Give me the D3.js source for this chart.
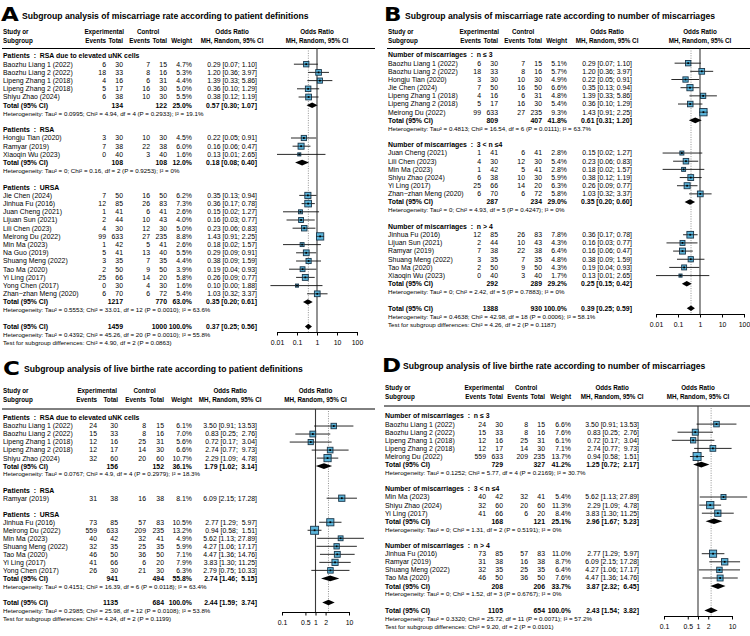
<!DOCTYPE html>
<html><head><meta charset="utf-8">
<script src="https://cdn.jsdelivr.net/npm/d3@7"></script>
<style>
body{margin:0;background:#fff}
svg text{font-family:"Liberation Sans",Arial,sans-serif;white-space:pre;fill:#000}
</style></head><body>
<svg id="c" width="750" height="636"></svg>
<script>
// ================= DATA =================
// study row: [label, groupIndex, expEvents, expTotal, ctrlEvents, ctrlTotal, weight%, OR, lower, upper]
// subtotal: [expTotal, ctrlTotal, weight%, OR, lower, upper]

// ---- Panel A ----
const groupsA = ["Patients  :  RSA due to elevated uNK cells", "Patients  :  RSA", "Patients  :  URSA"];
const studiesA = [
  ["Baozhu Liang 1 (2022)",0,6,30,7,15,4.7,0.29,0.07,1.10],
  ["Baozhu Liang 2 (2022)",0,18,33,8,16,5.3,1.20,0.36,3.97],
  ["Lipeng Zhang 1 (2018)",0,4,16,6,31,4.4,1.39,0.33,5.86],
  ["Lipeng Zhang 2 (2018)",0,5,17,16,30,5.0,0.36,0.10,1.29],
  ["Shiyu Zhao (2024)",0,6,38,10,30,5.5,0.38,0.12,1.19],
  ["Hongju Tian (2020)",1,3,30,10,30,4.5,0.22,0.05,0.91],
  ["Ramyar (2019)",1,7,38,22,38,6.0,0.16,0.06,0.47],
  ["Xiaoqin Wu (2023)",1,0,40,3,40,1.6,0.13,0.01,2.65],
  ["Jie Chen (2024)",2,7,50,16,50,6.2,0.35,0.13,0.94],
  ["Jinhua Fu (2016)",2,12,85,26,83,7.3,0.36,0.17,0.78],
  ["Juan Cheng (2021)",2,1,41,6,41,2.6,0.15,0.02,1.27],
  ["Lijuan Sun (2021)",2,2,44,10,43,4.0,0.16,0.03,0.77],
  ["Lili Chen (2023)",2,4,30,12,30,5.0,0.23,0.06,0.83],
  ["Meirong Du (2022)",2,99,633,27,235,8.8,1.43,0.91,2.25],
  ["Min Ma (2023)",2,1,42,5,41,2.6,0.18,0.02,1.57],
  ["Na Guo (2019)",2,5,41,13,40,5.5,0.29,0.09,0.91],
  ["Shuang Meng (2022)",2,3,35,7,35,4.4,0.38,0.09,1.59],
  ["Tao Ma (2020)",2,2,50,9,50,3.9,0.19,0.04,0.93],
  ["Yi Ling (2017)",2,25,66,14,20,5.8,0.26,0.09,0.77],
  ["Yong Chen (2017)",2,0,30,4,30,1.6,0.10,0.0047,1.88],
  ["Zhan\u2212zhan Meng (2020)",2,6,70,6,72,5.4,1.03,0.32,3.37]
];
const subtotalsA = [[134,122,25.0,0.57,0.30,1.07],[108,108,12.0,0.18,0.08,0.40],[1217,770,63.0,0.35,0.20,0.61]];
const hetA = [
  "Heterogeneity: Tau\u00b2 = 0.0995; Chi\u00b2 = 4.94, df = 4 (P = 0.2933); I\u00b2 = 19.1%",
  "Heterogeneity: Tau\u00b2 = 0; Chi\u00b2 = 0.16, df = 2 (P = 0.9253); I\u00b2 = 0%",
  "Heterogeneity: Tau\u00b2 = 0.5553; Chi\u00b2 = 33.01, df = 12 (P = 0.0010); I\u00b2 = 63.6%"
];
const overallA = [1459,1000,100.0,0.37,0.25,0.56];
const overallHetA = "Heterogeneity: Tau\u00b2 = 0.4392; Chi\u00b2 = 45.26, df = 20 (P = 0.0010); I\u00b2 = 55.8%";
const testA = "Test for subgroup differences: Chi\u00b2 = 4.90, df = 2 (P = 0.0863)";

// ---- Panel B ----
const groupsB = ["Number of miscarriages  :  n \u2264 3", "Number of miscarriages  :  3 < n \u22644", "Number of miscarriages  :  n > 4"];
const studiesB = [
  ["Baozhu Liang 1 (2022)",0,6,30,7,15,5.1,0.29,0.07,1.10],
  ["Baozhu Liang 2 (2022)",0,18,33,8,16,5.7,1.20,0.36,3.97],
  ["Hongju Tian (2020)",0,3,30,10,30,4.9,0.22,0.05,0.91],
  ["Jie Chen (2024)",0,7,50,16,50,6.6,0.35,0.13,0.94],
  ["Lipeng Zhang 1 (2018)",0,4,16,6,31,4.8,1.39,0.33,5.86],
  ["Lipeng Zhang 2 (2018)",0,5,17,16,30,5.4,0.36,0.10,1.29],
  ["Meirong Du (2022)",0,99,633,27,235,9.3,1.43,0.91,2.25],
  ["Juan Cheng (2021)",1,1,41,6,41,2.8,0.15,0.02,1.27],
  ["Lili Chen (2023)",1,4,30,12,30,5.4,0.23,0.06,0.83],
  ["Min Ma (2023)",1,1,42,5,41,2.8,0.18,0.02,1.57],
  ["Shiyu Zhao (2024)",1,6,38,10,30,5.9,0.38,0.12,1.19],
  ["Yi Ling (2017)",1,25,66,14,20,6.3,0.26,0.09,0.77],
  ["Zhan\u2212zhan Meng (2020)",1,6,70,6,72,5.8,1.03,0.32,3.37],
  ["Jinhua Fu (2016)",2,12,85,26,83,7.8,0.36,0.17,0.78],
  ["Lijuan Sun (2021)",2,2,44,10,43,4.3,0.16,0.03,0.77],
  ["Ramyar (2019)",2,7,38,22,38,6.4,0.16,0.06,0.47],
  ["Shuang Meng (2022)",2,3,35,7,35,4.8,0.38,0.09,1.59],
  ["Tao Ma (2020)",2,2,50,9,50,4.3,0.19,0.04,0.93],
  ["Xiaoqin Wu (2023)",2,0,40,3,40,1.7,0.13,0.01,2.65]
];
const subtotalsB = [[809,407,41.8,0.61,0.31,1.20],[287,234,29.0,0.35,0.20,0.60],[292,289,29.2,0.25,0.15,0.42]];
const hetB = [
  "Heterogeneity: Tau\u00b2 = 0.4813; Chi\u00b2 = 16.54, df = 6 (P = 0.0111); I\u00b2 = 63.7%",
  "Heterogeneity: Tau\u00b2 = 0; Chi\u00b2 = 4.93, df = 5 (P = 0.4247); I\u00b2 = 0%",
  "Heterogeneity: Tau\u00b2 = 0; Chi\u00b2 = 2.42, df = 5 (P = 0.7883); I\u00b2 = 0%"
];
const overallB = [1388,930,100.0,0.39,0.25,0.59];
const overallHetB = "Heterogeneity: Tau\u00b2 = 0.4638; Chi\u00b2 = 42.98, df = 18 (P = 0.0006); I\u00b2 = 58.1%";
const testB = "Test for subgroup differences: Chi\u00b2 = 4.26, df = 2 (P = 0.1187)";

// ---- Panel C ----
const groupsC = ["Patients  :  RSA due to elevated uNK cells", "Patients  :  RSA", "Patients  :  URSA"];
const studiesC = [
  ["Baozhu Liang 1 (2022)",0,24,30,8,15,6.1,3.50,0.91,13.53],
  ["Baozhu Liang 2 (2022)",0,15,33,8,16,7.0,0.83,0.25,2.76],
  ["Lipeng Zhang 1 (2018)",0,12,16,25,31,5.6,0.72,0.17,3.04],
  ["Lipeng Zhang 2 (2018)",0,12,17,14,30,6.6,2.74,0.77,9.73],
  ["Shiyu Zhao (2024)",0,32,60,20,60,10.7,2.29,1.09,4.78],
  ["Ramyar (2019)",1,31,38,16,38,8.1,6.09,2.15,17.28],
  ["Jinhua Fu (2016)",2,73,85,57,83,10.5,2.77,1.29,5.97],
  ["Meirong Du (2022)",2,559,633,209,235,13.2,0.94,0.58,1.51],
  ["Min Ma (2023)",2,40,42,32,41,4.9,5.62,1.13,27.89],
  ["Shuang Meng (2022)",2,32,35,25,35,5.9,4.27,1.06,17.17],
  ["Tao Ma (2020)",2,46,50,36,50,7.1,4.47,1.36,14.76],
  ["Yi Ling (2017)",2,41,66,6,20,7.9,3.83,1.30,11.25],
  ["Yong Chen (2017)",2,26,30,21,30,6.3,2.79,0.75,10.33]
];
const subtotalsC = [[156,152,36.1,1.79,1.02,3.14], null, [941,494,55.8,2.74,1.46,5.15]];
const hetC = [
  "Heterogeneity: Tau\u00b2 = 0.0767; Chi\u00b2 = 4.9, df = 4 (P = 0.2979); I\u00b2 = 18.3%",
  null,
  "Heterogeneity: Tau\u00b2 = 0.4151; Chi\u00b2 = 16.39, df = 6 (P = 0.0118); I\u00b2 = 63.4%"
];
const overallC = [1135,684,100.0,2.44,1.59,3.74];
const overallHetC = "Heterogeneity: Tau\u00b2 = 0.2985; Chi\u00b2 = 25.98, df = 12 (P = 0.0108); I\u00b2 = 53.8%";
const testC = "Test for subgroup differences: Chi\u00b2 = 4.24, df = 2 (P = 0.1199)";

// ---- Panel D ----
const groupsD = ["Number of miscarriages  :  n \u2264 3", "Number of miscarriages  :  3 < n \u22644", "Number of miscarriages  :  n > 4"];
const studiesD = [
  ["Baozhu Liang 1 (2022)",0,24,30,8,15,6.6,3.50,0.91,13.53],
  ["Baozhu Liang 2 (2022)",0,15,33,8,16,7.6,0.83,0.25,2.76],
  ["Lipeng Zhang 1 (2018)",0,12,16,25,31,6.1,0.72,0.17,3.04],
  ["Lipeng Zhang 2 (2018)",0,12,17,14,30,7.1,2.74,0.77,9.73],
  ["Meirong Du (2022)",0,559,633,209,235,13.7,0.94,0.58,1.51],
  ["Min Ma (2023)",1,40,42,32,41,5.4,5.62,1.13,27.89],
  ["Shiyu Zhao (2024)",1,32,60,20,60,11.3,2.29,1.09,4.78],
  ["Yi Ling (2017)",1,41,66,6,20,8.4,3.83,1.30,11.25],
  ["Jinhua Fu (2016)",2,73,85,57,83,11.0,2.77,1.29,5.97],
  ["Ramyar (2019)",2,31,38,16,38,8.7,6.09,2.15,17.28],
  ["Shuang Meng (2022)",2,32,35,25,35,6.4,4.27,1.06,17.17],
  ["Tao Ma (2020)",2,46,50,36,50,7.6,4.47,1.36,14.76]
];
const subtotalsD = [[729,327,41.2,1.25,0.72,2.17],[168,121,25.1,2.96,1.67,5.23],[208,206,33.7,3.87,2.32,6.45]];
const hetD = [
  "Heterogeneity: Tau\u00b2 = 0.1252; Chi\u00b2 = 5.77, df = 4 (P = 0.2169); I\u00b2 = 30.7%",
  "Heterogeneity: Tau\u00b2 = 0; Chi\u00b2 = 1.31, df = 2 (P = 0.5191); I\u00b2 = 0%",
  "Heterogeneity: Tau\u00b2 = 0; Chi\u00b2 = 1.52, df = 3 (P = 0.6767); I\u00b2 = 0%"
];
const overallD = [1105,654,100.0,2.43,1.54,3.82];
const overallHetD = "Heterogeneity: Tau\u00b2 = 0.3320; Chi\u00b2 = 25.72, df = 11 (P = 0.0071); I\u00b2 = 57.2%";
const testD = "Test for subgroup differences: Chi\u00b2 = 9.20, df = 2 (P = 0.0101)";

// axis ticks
const ticksWide = [0.01, 0.1, 1, 10, 100];
const tickLabelsWide = ["0.01", "0.1", "1", "10", "100"];
const ticksNarrow = [0.1, 0.5, 1, 2, 10];
const tickLabelsNarrow = ["0.1", "0.5", "1", "2", "10"];

const titleA = "Subgroup analysis of miscarriage rate according to patient definitions";
const titleB = "Subgroup analysis of miscarriage rate according to number of miscarriages";
const titleC = "Subgroup analysis of live birthe rate according to patient definitions";
const titleD = "Subgroup analysis of live birthe rate according to number of miscarriages";

// ================= LAYOUT =================
const svg = d3.select("#c");
const FONT = 6.9, HFONT = 6.3, SFONT = 6.2;

function buildRows(groups, studies, subtotals, hets, overall, overallHet, test) {
  const rows = [];
  groups.forEach((g, gi) => {
    rows.push({type: "group", text: g});
    studies.filter(s => s[1] === gi).forEach(s => rows.push({type: "study", d: s}));
    if (subtotals[gi]) {
      rows.push({type: "total", d: subtotals[gi]});
      rows.push({type: "het", text: hets[gi]});
    }
    rows.push({type: "blank"});
  });
  rows.push({type: "total", d: overall, overall: true});
  rows.push({type: "het", text: overallHet});
  rows.push({type: "het", text: test});
  return rows;
}

function txt(g, x, y, s, opt = {}) {
  const t = g.append("text").attr("x", x).attr("y", y).attr("dy", "0.35em")
    .attr("font-size", opt.size || FONT)
    .attr("text-anchor", opt.anchor || "start")
    .attr("xml:space", "preserve")
    .text(s);
  if (opt.bold) t.attr("font-weight", "bold");
  return t;
}

function ciStr(or, lo, hi, pad) {
  let h = hi.toFixed(2);
  while (h.length < pad) h = " " + h;
  return or.toFixed(2) + " [" + lo.toFixed(2) + "; " + h + "]";
}

function drawPanel(cfg, rows, studies, ticks, tickLabels) {
  const g = svg.append("g");
  const x = d3.scaleLog().domain(cfg.domain).range(cfg.xRange);
  const y = i => cfg.row0 + i * cfg.dy;
  const pad = d3.max(studies, s => s[9].toFixed(2).length);
  const wmax = d3.max(studies, s => s[6]);

  // letter + title
  g.append("text").attr("transform", `translate(${cfg.letterX},${cfg.letterY}) scale(1.15,1)`)
    .attr("font-size", 20).attr("font-weight", "bold")
    .style("font-family", "'DejaVu Sans',sans-serif").text(cfg.letter);
  txt(g, cfg.titleX, cfg.titleY, cfg.title, {size: 8.6, bold: true});

  // headers
  txt(g, cfg.labelX, cfg.hdr1, "Study or", {size: HFONT, bold: true});
  txt(g, cfg.labelX, cfg.hdr2, "Subgroup", {size: HFONT, bold: true});
  const hE = txt(g, cfg.colEv, cfg.hdr2, "Events", {size: HFONT, bold: true, anchor: "end"});
  txt(g, cfg.colTot, cfg.hdr2, "Total", {size: HFONT, bold: true, anchor: "end"});
  const hCE = txt(g, cfg.colCev, cfg.hdr2, "Events", {size: HFONT, bold: true, anchor: "end"});
  txt(g, cfg.colCtot, cfg.hdr2, "Total", {size: HFONT, bold: true, anchor: "end"});
  txt(g, cfg.colW, cfg.hdr2, "Weight", {size: HFONT, bold: true, anchor: "end"});
  const eL = cfg.colEv - hE.node().getComputedTextLength();
  txt(g, (eL + cfg.colTot) / 2, cfg.hdr1, "Experimental", {size: HFONT, bold: true, anchor: "middle"});
  const cL = cfg.colCev - hCE.node().getComputedTextLength();
  txt(g, (cL + cfg.colCtot) / 2, cfg.hdr1, "Control", {size: HFONT, bold: true, anchor: "middle"});
  const probe = txt(g, cfg.colOR, -50, ciStr(studies[0][7], studies[0][8], studies[0][9], pad), {anchor: "end"});
  const ciW = probe.node().getComputedTextLength(); probe.remove();
  const ciMid = cfg.colOR - ciW / 2;
  txt(g, ciMid, cfg.hdr1, "Odds Ratio", {size: HFONT, bold: true, anchor: "middle"});
  txt(g, ciMid, cfg.hdr2, "MH, Random, 95% CI", {size: HFONT, bold: true, anchor: "middle"});
  const pMid = (cfg.xRange[0] + cfg.xRange[1]) / 2;
  txt(g, pMid, cfg.hdr1, "Odds Ratio", {size: HFONT, bold: true, anchor: "middle"});
  txt(g, pMid, cfg.hdr2, "MH, Random, 95% CI", {size: HFONT, bold: true, anchor: "middle"});

  g.append("line").attr("x1", cfg.labelX - 1).attr("x2", cfg.ruleRight)
    .attr("y1", cfg.rule).attr("y2", cfg.rule).attr("stroke", "#000").attr("stroke-width", 1);

  // reference lines
  const overallRow = rows.find(r => r.overall);
  g.append("line").attr("x1", x(1)).attr("x2", x(1)).attr("y1", cfg.rule).attr("y2", cfg.axisY)
    .attr("stroke", "#3a3a3a").attr("stroke-width", 1.1);
  g.append("line").attr("x1", x(overallRow.d[3])).attr("x2", x(overallRow.d[3]))
    .attr("y1", cfg.rule + 2).attr("y2", cfg.axisY)
    .attr("stroke", "#777").attr("stroke-width", 0.8).attr("stroke-dasharray", "1,1.4");

  rows.forEach((r, i) => {
    const yy = y(i);
    if (r.type === "group") {
      txt(g, cfg.labelX, yy, r.text, {bold: true});
    } else if (r.type === "study") {
      const s = r.d;
      txt(g, cfg.labelX, yy, s[0]);
      txt(g, cfg.colEv, yy, String(s[2]), {anchor: "end"});
      txt(g, cfg.colTot, yy, String(s[3]), {anchor: "end"});
      txt(g, cfg.colCev, yy, String(s[4]), {anchor: "end"});
      txt(g, cfg.colCtot, yy, String(s[5]), {anchor: "end"});
      txt(g, cfg.colW, yy, s[6].toFixed(1) + "%", {anchor: "end"});
      txt(g, cfg.colOR, yy, ciStr(s[7], s[8], s[9], pad), {anchor: "end"});
      g.append("line").attr("x1", x(s[8])).attr("x2", x(s[9])).attr("y1", yy).attr("y2", yy)
        .attr("stroke", "#111").attr("stroke-width", 0.9);
      const side = cfg.boxMax * Math.sqrt(s[6] / wmax);
      g.append("rect").attr("x", x(s[7]) - side / 2).attr("y", yy - side / 2)
        .attr("width", side).attr("height", side)
        .attr("fill", "#5BB5DB").attr("stroke", "#1B3548").attr("stroke-width", 0.9);
      g.append("line").attr("x1", x(s[7]) - side / 2).attr("x2", x(s[7]) + side / 2).attr("y1", yy).attr("y2", yy)
        .attr("stroke", "#111").attr("stroke-width", 0.7);
      g.append("rect").attr("x", x(s[7]) - 0.9).attr("y", yy - 0.9).attr("width", 1.8).attr("height", 1.8)
        .attr("fill", "#000");
    } else if (r.type === "total") {
      const s = r.d;
      txt(g, cfg.labelX, yy, "Total (95% CI)", {bold: true});
      txt(g, cfg.colTot, yy, String(s[0]), {anchor: "end", bold: true});
      txt(g, cfg.colCtot, yy, String(s[1]), {anchor: "end", bold: true});
      txt(g, cfg.colW, yy, s[2].toFixed(1) + "%", {anchor: "end", bold: true});
      txt(g, cfg.colOR, yy, ciStr(s[3], s[4], s[5], pad), {anchor: "end", bold: true});
      const h = 2.8;
      g.append("polygon")
        .attr("points", [[x(s[4]), yy], [x(s[3]), yy - h], [x(s[5]), yy], [x(s[3]), yy + h]].map(p => p.join(",")).join(" "))
        .attr("fill", "#000");
    } else if (r.type === "het") {
      txt(g, cfg.labelX, yy, r.text, {size: SFONT});
    }
  });

  // axis
  const ax = g.append("g").attr("transform", `translate(0,${cfg.axisY})`)
    .call(d3.axisBottom(x).tickValues(ticks).tickFormat((d, i) => tickLabels[i])
      .tickSize(3.5).tickSizeOuter(0).tickPadding(4.5));
  ax.attr("font-size", FONT).attr("font-family", null);
  ax.selectAll("path,line").attr("stroke", "#000").attr("stroke-width", 1);
}

const cfgA = {letter: "A", letterX: 1, letterY: 21, title: titleA, titleX: 22, titleY: 15.5,
  labelX: 3, colEv: 106, colTot: 123, colCev: 150, colCtot: 167, colW: 192, colOR: 257,
  domain: [0.01, 100], xRange: [277, 357], hdr1: 32, hdr2: 41, rule: 48.5, ruleRight: 375,
  row0: 56, dy: 8.2, axisY: 332, boxMax: 7.3};
const cfgB = {letter: "B", letterX: 384, letterY: 21, title: titleB, titleX: 405, titleY: 15.5,
  labelX: 388, colEv: 481, colTot: 498, colCev: 525, colCtot: 542, colW: 567, colOR: 632,
  domain: [0.01, 100], xRange: [656, 744], hdr1: 32, hdr2: 41, rule: 48.5, ruleRight: 750,
  row0: 55, dy: 8.17, axisY: 314, boxMax: 7.3};
const cfgC = {letter: "C", letterX: 3, letterY: 375, title: titleC, titleX: 24, titleY: 369,
  labelX: 3, colEv: 97, colTot: 118, colCev: 146, colCtot: 164, colW: 192, colOR: 257,
  domain: [0.1, 10], xRange: [282, 349], hdr1: 391, hdr2: 400, rule: 409, ruleRight: 375,
  row0: 418, dy: 8.02, axisY: 612, boxMax: 8};
const cfgD = {letter: "D", letterX: 382, letterY: 372, title: titleD, titleX: 403, titleY: 366,
  labelX: 385, colEv: 486, colTot: 503, colCev: 528, colCtot: 545, colW: 571, colOR: 639,
  domain: [0.1, 10], xRange: [664, 732], hdr1: 388, hdr2: 397, rule: 406, ruleRight: 750,
  row0: 416, dy: 8.1, axisY: 616, boxMax: 8};

drawPanel(cfgA, buildRows(groupsA, studiesA, subtotalsA, hetA, overallA, overallHetA, testA), studiesA, ticksWide, tickLabelsWide);
drawPanel(cfgB, buildRows(groupsB, studiesB, subtotalsB, hetB, overallB, overallHetB, testB), studiesB, ticksWide, tickLabelsWide);
drawPanel(cfgC, buildRows(groupsC, studiesC, subtotalsC, hetC, overallC, overallHetC, testC), studiesC, ticksNarrow, tickLabelsNarrow);
drawPanel(cfgD, buildRows(groupsD, studiesD, subtotalsD, hetD, overallD, overallHetD, testD), studiesD, ticksNarrow, tickLabelsNarrow);
</script>
</body></html>
